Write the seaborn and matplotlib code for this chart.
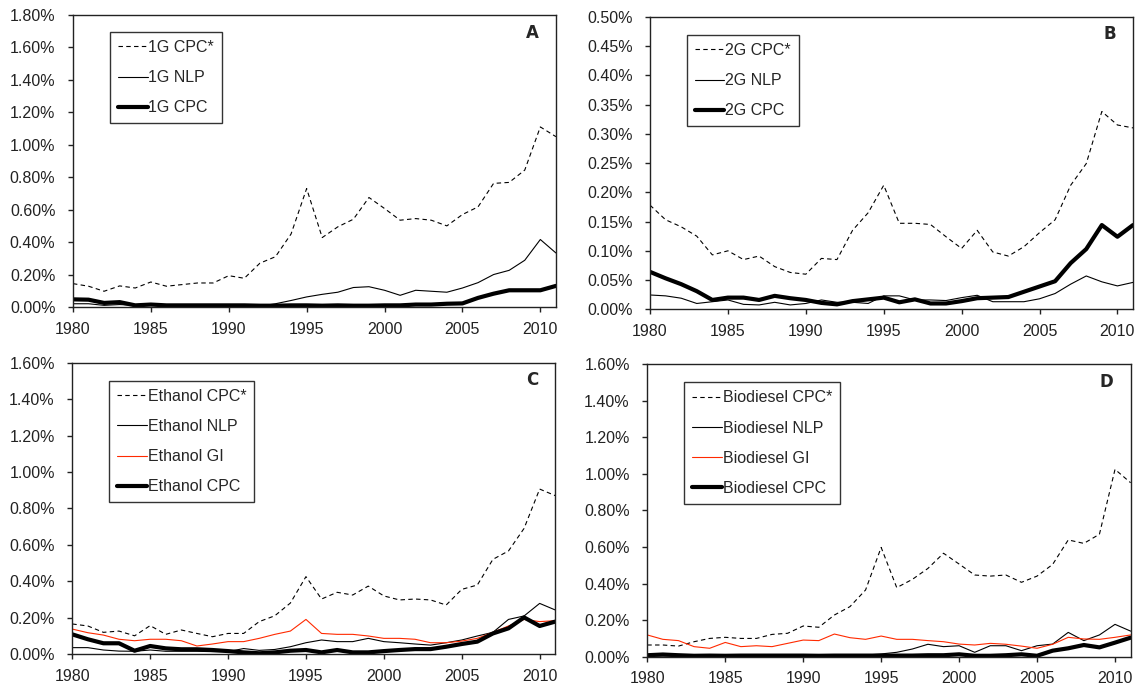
import matplotlib
matplotlib.use("Agg")
import matplotlib.pyplot as plt
import seaborn as sns
import numpy as np
import pandas as pd
from matplotlib.ticker import FuncFormatter, MultipleLocator

years = list(range(1980, 2012))

# Panel A (1G)
a_cpc_star = [0.144, 0.128, 0.097, 0.130, 0.117, 0.154, 0.128, 0.138, 0.148, 0.148,
              0.193, 0.177, 0.270, 0.310, 0.450, 0.730, 0.428, 0.494, 0.541, 0.675,
              0.607, 0.535, 0.545, 0.535, 0.500, 0.570, 0.617, 0.762, 0.768, 0.844,
              1.110, 1.050]
a_nlp = [0.020, 0.020, 0.010, 0.015, 0.010, 0.012, 0.010, 0.010, 0.010, 0.010,
         0.010, 0.010, 0.005, 0.020, 0.040, 0.062, 0.078, 0.091, 0.120, 0.125,
         0.103, 0.072, 0.103, 0.097, 0.091, 0.117, 0.150, 0.200, 0.226, 0.288,
         0.416, 0.333]
a_cpc = [0.047, 0.045, 0.025, 0.030, 0.010, 0.015, 0.010, 0.010, 0.010, 0.010,
         0.010, 0.010, 0.008, 0.008, 0.010, 0.010, 0.008, 0.010, 0.008, 0.008,
         0.010, 0.010, 0.015, 0.015, 0.020, 0.022, 0.056, 0.082, 0.103, 0.103,
         0.103, 0.130]

# Panel B (2G)
b_cpc_star = [0.178, 0.153, 0.141, 0.125, 0.093, 0.100, 0.085, 0.091, 0.073, 0.063,
              0.060, 0.087, 0.085, 0.135, 0.165, 0.212, 0.147, 0.147, 0.145, 0.124,
              0.104, 0.135, 0.098, 0.091, 0.107, 0.131, 0.153, 0.212, 0.249, 0.338,
              0.315, 0.310]
b_nlp = [0.0245, 0.023, 0.019, 0.010, 0.013, 0.016, 0.0085, 0.0075, 0.012, 0.0075,
         0.010, 0.016, 0.012, 0.012, 0.010, 0.023, 0.023, 0.016, 0.016, 0.015,
         0.020, 0.024, 0.013, 0.013, 0.013, 0.018, 0.027, 0.043, 0.057, 0.047,
         0.040, 0.046]
b_cpc = [0.064, 0.053, 0.043, 0.031, 0.016, 0.020, 0.020, 0.016, 0.023, 0.019,
         0.016, 0.011, 0.0085, 0.014, 0.017, 0.020, 0.012, 0.017, 0.010, 0.010,
         0.014, 0.019, 0.020, 0.021, 0.030, 0.039, 0.048, 0.079, 0.103, 0.144,
         0.124, 0.144]

# Panel C (Ethanol)
c_cpc_star = [0.165, 0.154, 0.119, 0.126, 0.100, 0.156, 0.108, 0.132, 0.113, 0.095,
              0.113, 0.113, 0.178, 0.210, 0.280, 0.425, 0.302, 0.339, 0.324, 0.373,
              0.319, 0.297, 0.302, 0.297, 0.269, 0.355, 0.379, 0.520, 0.566, 0.690,
              0.906, 0.870]
c_nlp = [0.035, 0.035, 0.022, 0.016, 0.015, 0.022, 0.015, 0.015, 0.015, 0.013,
         0.013, 0.030, 0.020, 0.025, 0.040, 0.062, 0.077, 0.068, 0.068, 0.086,
         0.068, 0.062, 0.055, 0.049, 0.062, 0.077, 0.099, 0.119, 0.190, 0.209,
         0.278, 0.242]
c_gi = [0.137, 0.117, 0.104, 0.081, 0.073, 0.081, 0.081, 0.073, 0.044, 0.055,
        0.068, 0.068, 0.086, 0.108, 0.126, 0.190, 0.113, 0.108, 0.108, 0.099,
        0.086, 0.086, 0.081, 0.062, 0.062, 0.071, 0.086, 0.119, 0.154, 0.190,
        0.178, 0.183]
c_cpc = [0.108, 0.081, 0.059, 0.059, 0.018, 0.044, 0.031, 0.026, 0.026, 0.022,
         0.016, 0.009, 0.004, 0.009, 0.018, 0.022, 0.009, 0.022, 0.009, 0.009,
         0.016, 0.022, 0.027, 0.027, 0.040, 0.055, 0.068, 0.113, 0.141, 0.201,
         0.154, 0.178]

# Panel D (Biodiesel)
d_cpc_star = [0.064, 0.064, 0.058, 0.082, 0.100, 0.106, 0.100, 0.100, 0.122, 0.128,
              0.168, 0.161, 0.228, 0.274, 0.365, 0.598, 0.378, 0.423, 0.483, 0.566,
              0.507, 0.447, 0.441, 0.447, 0.407, 0.441, 0.505, 0.639, 0.620, 0.670,
              1.025, 0.952]
d_nlp = [0.004, 0.004, 0.004, 0.004, 0.004, 0.004, 0.004, 0.004, 0.004, 0.004,
         0.004, 0.004, 0.005, 0.005, 0.009, 0.015, 0.024, 0.042, 0.068, 0.055,
         0.060, 0.024, 0.060, 0.060, 0.033, 0.060, 0.069, 0.133, 0.088, 0.119,
         0.177, 0.140]
d_gi = [0.119, 0.095, 0.088, 0.055, 0.046, 0.078, 0.055, 0.060, 0.055, 0.073,
        0.091, 0.088, 0.124, 0.104, 0.095, 0.113, 0.095, 0.095, 0.088, 0.082,
        0.069, 0.064, 0.073, 0.068, 0.058, 0.046, 0.068, 0.106, 0.097, 0.095,
        0.106, 0.119]
d_cpc = [0.008, 0.012, 0.008, 0.005, 0.006, 0.005, 0.006, 0.006, 0.006, 0.006,
         0.006, 0.005, 0.006, 0.006, 0.006, 0.006, 0.006, 0.006, 0.008, 0.008,
         0.013, 0.005, 0.005, 0.008, 0.013, 0.005, 0.033, 0.046, 0.064, 0.051,
         0.077, 0.104]

sns.set_style("ticks")
plt.rcParams['font.family'] = ['Liberation Sans', 'DejaVu Sans']

fig = plt.figure(figsize=(11.38, 6.88), dpi=100)

DASH = (0, (4, 3))
THIN = 0.8
THICK = 3.0

panels = [
    dict(pos=[0.0641, 0.5538, 0.4244, 0.4244], letter="A", ymax=1.80, ystep=0.20,
         leg=(0.077, 0.942),
         series=[("1G CPC*", a_cpc_star, "black", THIN, DASH),
                 ("1G NLP", a_nlp, "black", THIN, "-"),
                 ("1G CPC", a_cpc, "black", THICK, "-")]),
    dict(pos=[0.5712, 0.5504, 0.4244, 0.4253], letter="B", ymax=0.50, ystep=0.05,
         leg=(0.076, 0.9375),
         series=[("2G CPC*", b_cpc_star, "black", THIN, DASH),
                 ("2G NLP", b_nlp, "black", THIN, "-"),
                 ("2G CPC", b_cpc, "black", THICK, "-")]),
    dict(pos=[0.0635, 0.0494, 0.4244, 0.4234], letter="C", ymax=1.60, ystep=0.20,
         leg=(0.0766, 0.938),
         series=[("Ethanol CPC*", c_cpc_star, "black", THIN, DASH),
                 ("Ethanol NLP", c_nlp, "black", THIN, "-"),
                 ("Ethanol GI", c_gi, "#ff2a00", THIN, "-"),
                 ("Ethanol CPC", c_cpc, "black", THICK, "-")]),
    dict(pos=[0.5688, 0.0455, 0.4247, 0.4250], letter="D", ymax=1.60, ystep=0.20,
         leg=(0.0765, 0.938),
         series=[("Biodiesel CPC*", d_cpc_star, "black", THIN, DASH),
                 ("Biodiesel NLP", d_nlp, "black", THIN, "-"),
                 ("Biodiesel GI", d_gi, "#ff2a00", THIN, "-"),
                 ("Biodiesel CPC", d_cpc, "black", THICK, "-")]),
]

for p in panels:
    ax = fig.add_axes(p["pos"])
    for name, vals, col, lw, ls in p["series"]:
        df = pd.DataFrame({"year": years, "value": vals})
        sns.lineplot(data=df, x="year", y="value", ax=ax, color=col,
                     linewidth=lw, linestyle=ls, label=name)
    ax.set_xlim(1980, 2011)
    ax.set_ylim(0, p["ymax"])
    ax.yaxis.set_major_locator(MultipleLocator(p["ystep"]))
    ax.xaxis.set_major_locator(MultipleLocator(5))
    ax.yaxis.set_major_formatter(FuncFormatter(lambda v, pos: f"{v:.2f}%"))
    ax.set_xlabel("")
    ax.set_ylabel("")
    for s in ax.spines.values():
        s.set_visible(True)
        s.set_color("#222222")
        s.set_linewidth(1.0)
    ax.tick_params(axis="both", direction="out", length=3.6, width=1,
                   labelsize=11.5, colors="#222222")
    ax.tick_params(axis="y", pad=9)
    ax.tick_params(axis="x", pad=7)
    ax.text(0.965, 0.94, p["letter"], transform=ax.transAxes, ha="right",
            va="center", fontsize=12, fontweight="bold", family="DejaVu Sans")
    leg = ax.legend(loc="upper left", bbox_to_anchor=p["leg"], borderaxespad=0,
                    frameon=True, fancybox=False, edgecolor="black",
                    fontsize=11.5, handlelength=1.85, handletextpad=0.05,
                    labelspacing=0.95, borderpad=0.5)
    leg.get_frame().set_linewidth(1.0)

fig.savefig("out.png", dpi=100)
